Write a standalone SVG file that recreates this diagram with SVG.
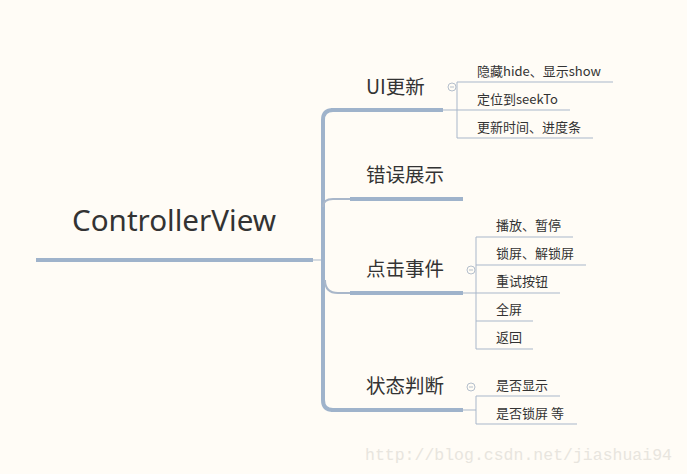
<svg xmlns="http://www.w3.org/2000/svg" width="687" height="474" viewBox="0 0 687 474">
<style>
.thick{stroke:#9fb3cb;stroke-width:4;fill:none;stroke-linecap:butt}
.trunk{stroke:#9fb3cb;stroke-width:4;fill:none}
.thin{stroke:#a9b7ca;stroke-width:1;fill:none}
.t1{font-family:"Noto Sans CJK SC","Noto Sans",sans-serif;font-size:19.5px;fill:#333}
.t2{font-family:"Noto Sans CJK SC","Noto Sans",sans-serif;font-size:13px;fill:#333}
.root{font-family:"Noto Sans","Noto Sans CJK SC",sans-serif;font-size:29px;fill:#333}
.col{fill:#fffcf5;stroke:#b5bfcc;stroke-width:1}
</style>
<rect width="687" height="474" fill="#fffcf6"/>
<g id="connectors">
<line class="thin" x1="313" y1="260" x2="322" y2="260"/>
<path class="trunk" d="M333,110 Q323,110 323,120 L323,400 Q323,410 333,410"/>
<line class="thick" x1="331" y1="110" x2="350" y2="110"/>
<line class="thick" x1="331" y1="410" x2="350" y2="410"/>
<path class="thin" style="stroke-width:2" d="M323,207 Q323,199 333,199 L350,199"/>
<path class="thin" style="stroke-width:2" d="M325,280 Q325,293 338,293 L350,293"/>
<line class="thin" x1="443" y1="110" x2="457" y2="110"/>
<line class="thin" x1="457" y1="82" x2="457" y2="138"/>
<line class="thin" x1="457" y1="82" x2="613" y2="82"/>
<line class="thin" x1="457" y1="110" x2="570" y2="110"/>
<line class="thin" x1="457" y1="138" x2="593" y2="138"/>
<line class="thin" x1="463" y1="293" x2="476" y2="293"/>
<line class="thin" x1="476" y1="237" x2="476" y2="349"/>
<line class="thin" x1="476" y1="237" x2="573" y2="237"/>
<line class="thin" x1="476" y1="265" x2="586" y2="265"/>
<line class="thin" x1="476" y1="293" x2="560" y2="293"/>
<line class="thin" x1="476" y1="321" x2="533" y2="321"/>
<line class="thin" x1="476" y1="349" x2="533" y2="349"/>
<line class="thin" x1="463" y1="410" x2="476" y2="410"/>
<line class="thin" x1="476" y1="396" x2="476" y2="424"/>
<line class="thin" x1="476" y1="396" x2="560" y2="396"/>
<line class="thin" x1="476" y1="424" x2="577" y2="424"/>
</g>
<g id="root">
<line class="thick" x1="36" y1="260" x2="313" y2="260"/>
<text class="root" x="72" y="231" textLength="204" lengthAdjust="spacingAndGlyphs">ControllerView</text>
</g>
<g id="ui">
<line class="thick" x1="350" y1="110" x2="443" y2="110"/>
<text class="t1" x="366" y="94">UI更新</text>
<circle class="col" cx="452" cy="87" r="4"/>
<line x1="450" y1="87" x2="454" y2="87" stroke="#b5bfcc" stroke-width="1"/>
</g>
<g id="ui1"><text class="t2" x="477" y="76">隐藏hide、显示show</text></g>
<g id="ui2"><text class="t2" x="477" y="104">定位到seekTo</text></g>
<g id="ui3"><text class="t2" x="477" y="132">更新时间、进度条</text></g>
<g id="err">
<line class="thick" x1="350" y1="199" x2="463" y2="199"/>
<text class="t1" x="366" y="182">错误展示</text>
</g>
<g id="click">
<line class="thick" x1="350" y1="293" x2="463" y2="293"/>
<text class="t1" x="366" y="276">点击事件</text>
<circle class="col" cx="471" cy="270" r="4"/>
<line x1="469" y1="270" x2="473" y2="270" stroke="#b5bfcc" stroke-width="1"/>
</g>
<g id="c1"><text class="t2" x="496" y="230">播放、暂停</text></g>
<g id="c2"><text class="t2" x="496" y="258">锁屏、解锁屏</text></g>
<g id="c3"><text class="t2" x="496" y="286">重试按钮</text></g>
<g id="c4"><text class="t2" x="496" y="314">全屏</text></g>
<g id="c5"><text class="t2" x="496" y="342">返回</text></g>
<g id="state">
<line class="thick" x1="350" y1="410" x2="463" y2="410"/>
<text class="t1" x="366" y="393">状态判断</text>
<circle class="col" cx="471" cy="387" r="4"/>
<line x1="469" y1="387" x2="473" y2="387" stroke="#b5bfcc" stroke-width="1"/>
</g>
<g id="s1"><text class="t2" x="496" y="390">是否显示</text></g>
<g id="s2"><text class="t2" x="496" y="418">是否锁屏 等</text></g>
<text x="365" y="460" font-family="Liberation Mono, monospace" font-size="16.5" fill="#e8e5de">http://blog.csdn.net/jiashuai94</text>
</svg>
